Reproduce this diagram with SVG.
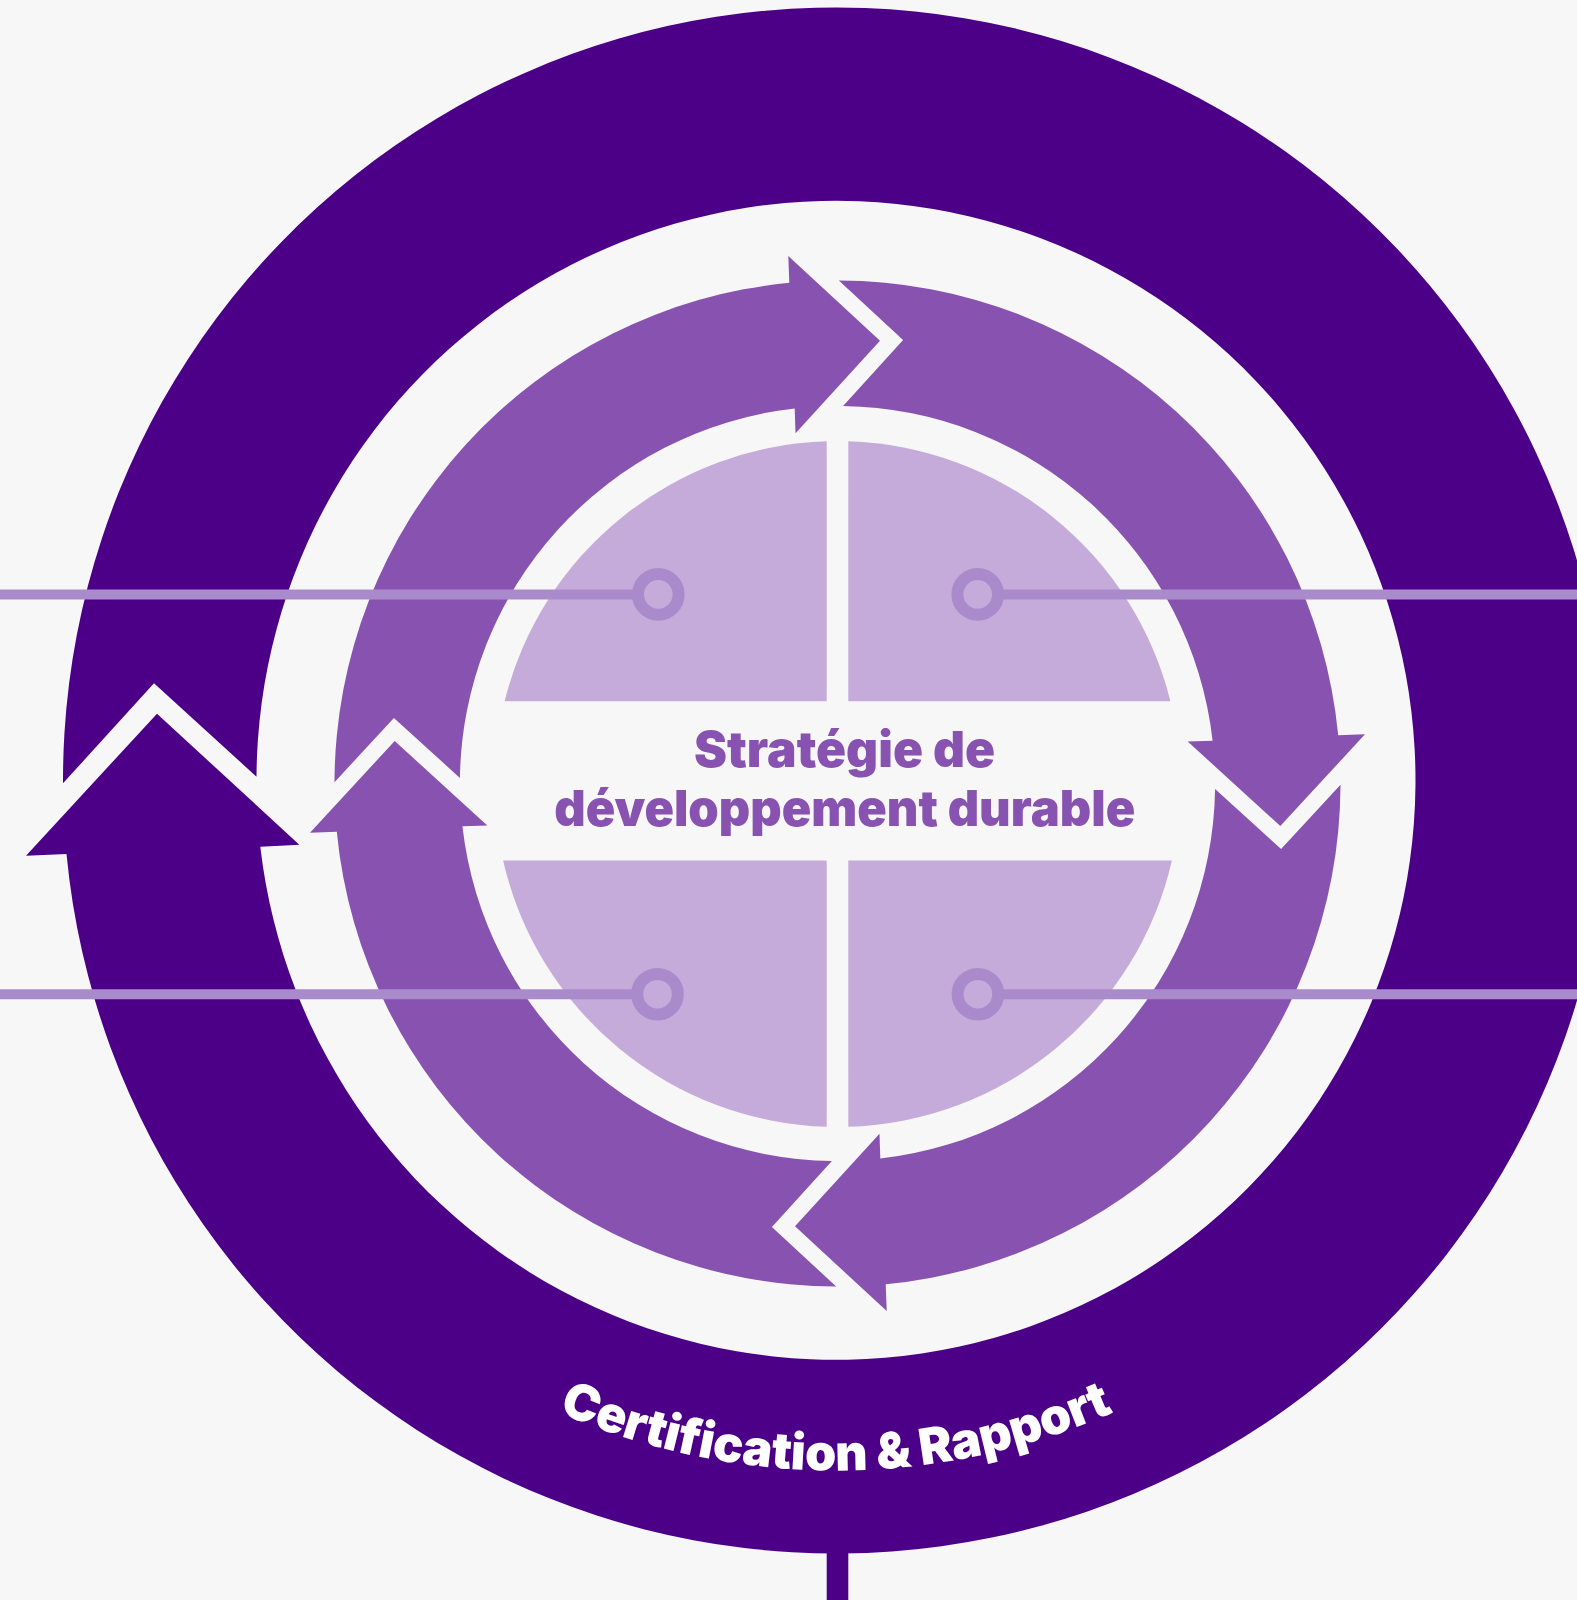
<svg xmlns="http://www.w3.org/2000/svg" width="1577" height="1600" viewBox="0 0 1577 1600">
  <defs>
    <style>
      .dark { fill: #4c0088; }
      .mid { fill: #8852b0; }
      .light { fill: #c5abd9; }
      .line { stroke: #a98bcb; stroke-width: 10; fill: none; }
      .marker { stroke: #a98bcb; stroke-width: 12; fill: #c5abd9; }
      .title { font-family: Inter, "Open Sans", "Liberation Sans", sans-serif; font-weight: 900; font-size: 50px; fill: #8852b0; text-anchor: middle; }
      .ring-label { font-family: Inter, "Open Sans", "Liberation Sans", sans-serif; font-weight: 900; font-size: 50px; fill: #ffffff; text-anchor: middle; }
    </style>
    <path id="seg" d="M 1.3,-503 A 503 503 0 0 1 500.7,-48.2 L 527.5,-49.2 L 442.8,42.5 L 350.2,-42 L 375.1,-42.8 A 377.5 377.5 0 0 0 5.6,-377.6 L 65.6,-443.6 Z"/>
    <path id="labelArc" d="M 146,780.5 A 690 690 0 0 0 1526,780.5"/>
  </defs>
  <rect width="1577" height="1600" fill="#f7f7f7"/>

  <g id="outer-ring">
    <rect class="dark" x="826.7" y="1530" width="21.6" height="70"/>
    <path class="dark" d="M 63,783.3 A 773 773 0 1 1 66.5,854 L 26,855.7 L 157,713.7 L 299.3,844.7 L 260.3,846.7 A 579.5 579.5 0 1 0 256.5,776.7 L 154,683.3 Z"/>
    <text class="ring-label"><textPath href="#labelArc" startOffset="50%" textLength="572" lengthAdjust="spacing">Certification &amp; Rapport</textPath></text>
  </g>

  <g id="cycle-arrows" transform="translate(837.5,783.5)">
    <use href="#seg" class="mid"/>
    <use href="#seg" class="mid" transform="rotate(90)"/>
    <use href="#seg" class="mid" transform="rotate(180)"/>
    <use href="#seg" class="mid" transform="rotate(270)"/>
  </g>

  <g id="quadrant-top-left">
    <path class="light" d="M 826.7,701.2 V 441.2 A 343 343 0 0 0 504.6,701.2 Z"/>
  </g>
  <g id="quadrant-top-right">
    <path class="light" d="M 848.3,701.2 V 441.2 A 343 343 0 0 1 1170.4,701.2 Z"/>
  </g>
  <g id="quadrant-bottom-left">
    <path class="light" d="M 826.7,860.5 V 1126.8 A 343 343 0 0 1 503.1,860.5 Z"/>
  </g>
  <g id="quadrant-bottom-right">
    <path class="light" d="M 848.3,860.5 V 1126.8 A 343 343 0 0 0 1171.9,860.5 Z"/>
  </g>

  <g id="center-title">
    <text class="title" x="844.5" y="766.7" textLength="301" lengthAdjust="spacingAndGlyphs">Stratégie de</text>
    <text class="title" x="844.7" y="826" textLength="581" lengthAdjust="spacingAndGlyphs">développement durable</text>
  </g>

  <g id="connectors">
    <line class="line" x1="0" y1="594.4" x2="638" y2="594.4"/>
    <line class="line" x1="998" y1="594.4" x2="1577" y2="594.4"/>
    <line class="line" x1="0" y1="994.2" x2="637.5" y2="994.2"/>
    <line class="line" x1="998" y1="994.2" x2="1577" y2="994.2"/>
  </g>

  <g id="marker-top-left"><circle class="marker" cx="658.3" cy="594.4" r="20.3"/></g>
  <g id="marker-top-right"><circle class="marker" cx="977.7" cy="594.4" r="20.3"/></g>
  <g id="marker-bottom-left"><circle class="marker" cx="657.5" cy="994.2" r="20.3"/></g>
  <g id="marker-bottom-right"><circle class="marker" cx="977.9" cy="994.2" r="20.3"/></g>
</svg>
